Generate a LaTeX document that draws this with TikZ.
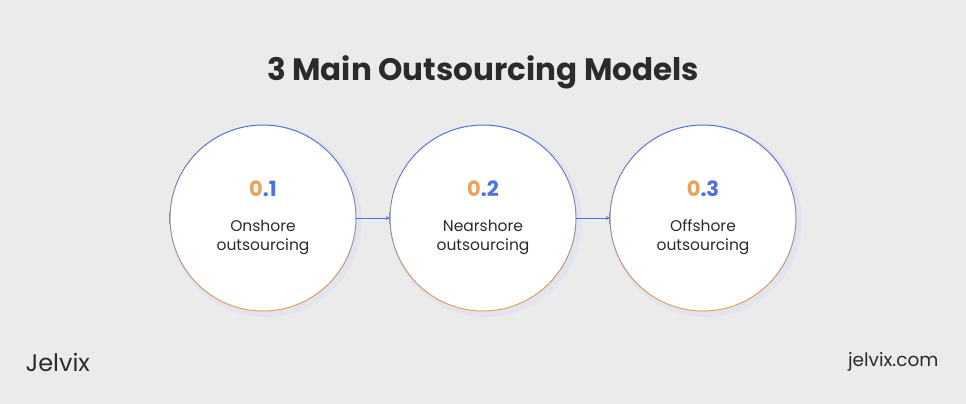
\documentclass[tikz,border=0pt]{standalone}
\usepackage{fontspec}
\setmainfont{Poppins}
\usetikzlibrary{positioning}
\definecolor{bgGray}{HTML}{EBEBEB}
\definecolor{ringBlue}{HTML}{4A72E0}
\definecolor{ringOrange}{HTML}{E8A25A}
\definecolor{textDark}{HTML}{2B2B2B}
\tikzset{
	stage/.style={circle,minimum size=186pt,inner sep=0pt,fill=white,align=center,font=\fontsize{15.5}{19}\selectfont,text=textDark},
	flow/.style={->,>=stealth,thick,ringBlue}
}
\newcommand{\stepnum}[1]{{\fontsize{21}{24}\selectfont\bfseries\textcolor{ringOrange}{0}\textcolor{ringBlue}{.#1}}}
\begin{document}
\begin{tikzpicture}[x=1pt,y=-1pt]
	\fill[bgGray] (0,0) rectangle (966,404);
	\useasboundingbox (0,0) rectangle (966,404);
	\node[font=\fontsize{31}{34}\selectfont\bfseries,text=textDark] (title) at (483,72) {3 Main Outsourcing Models};
	
	%CIRCLES
	\foreach \i/\cx/\lab in {1/263/Onshore,2/483/Nearshore,3/703/Offshore}{
		\fill[blue!20,opacity=0.2] (\cx+3,221) circle (96);
		\node[stage] (s\i) at (\cx,218) {\stepnum{\i}\\[16pt]\lab\\outsourcing};
		\shade[top color=ringBlue,bottom color=ringOrange,even odd rule] (\cx,218) circle (93.5) circle (92.5);
	}
	
	%ARROWS
	\draw[flow] (s1.east) -- (s2.west);
	\draw[flow] (s2.east) -- (s3.west);
	
	%FOOTER
	\node[anchor=west,font=\fontsize{24}{28}\selectfont,text=textDark] (logo) at (22,362) {Jelvix};
	\node[anchor=east,font=\fontsize{18.5}{22}\selectfont,text=textDark] (site) at (942,362) {jelvix.com};
\end{tikzpicture}
\end{document}
